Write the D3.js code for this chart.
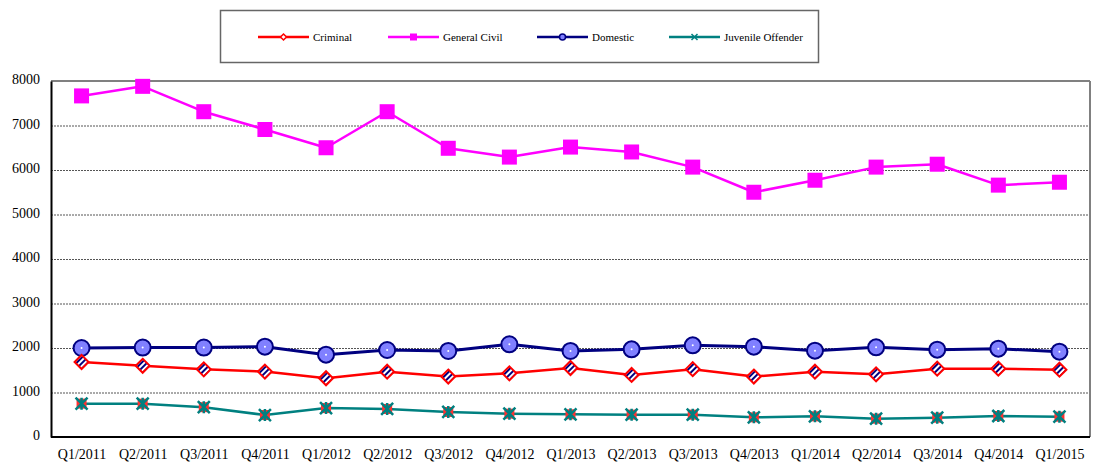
<!DOCTYPE html>
<html>
<head>
<meta charset="UTF-8">
<style>
body {margin:0; background:#fff;}
text {font-family:"Liberation Serif","Times New Roman",serif; fill:#000;}
.tick text {font-size:14px;}
.legend text {font-size:11px;}
</style>
<script src="https://cdnjs.cloudflare.com/ajax/libs/d3/7.8.5/d3.min.js"></script>
</head>
<body>
<svg id="chart" width="1093" height="467"></svg>
<script>
// data
var quarters = ["Q1/2011","Q2/2011","Q3/2011","Q4/2011","Q1/2012","Q2/2012","Q3/2012","Q4/2012",
                "Q1/2013","Q2/2013","Q3/2013","Q4/2013","Q1/2014","Q2/2014","Q3/2014","Q4/2014","Q1/2015"];
var criminal   = [1685,1600,1520,1470,1320,1468,1358,1430,1550,1395,1525,1358,1468,1408,1536,1536,1513];
var civil      = [7665,7880,7310,6910,6500,7310,6488,6290,6515,6405,6065,5500,5770,6065,6130,5660,5725];
var domestic   = [2000,2010,2010,2030,1850,1955,1933,2083,1933,1970,2060,2030,1940,2015,1963,1985,1918];
var juvenile   = [750,748,670,494,650,630,562,524,510,502,502,442,464,412,434,472,457];
var yTicks     = [0,1000,2000,3000,4000,5000,6000,7000,8000];
var seriesNames = ["Criminal","General Civil","Domestic","Juvenile Offender"];

var svg = d3.select("#chart");
var plotL = 51, plotR = 1090, plotT = 81, plotB = 437;

var x = d3.scalePoint().domain(quarters).range([plotL, plotR]).padding(0.5);
var y = d3.scaleLinear().domain([0, 8000]).range([plotB, plotT]);

// hatch pattern for the criminal diamonds
var defs = svg.append("defs");
var pat = defs.append("pattern").attr("id","hatch").attr("patternUnits","userSpaceOnUse")
  .attr("width",4).attr("height",4).attr("patternTransform","rotate(-45)");
pat.append("rect").attr("width",4).attr("height",4).attr("fill","#fff");
pat.append("rect").attr("width",4).attr("height",2).attr("fill","#000080");

// grid
svg.append("g").selectAll("line").data(yTicks.filter(function(d){return d>0 && d<8000;}))
  .join("line")
  .attr("x1", plotL).attr("x2", plotR)
  .attr("y1", function(d){return y(d)+0.5;}).attr("y2", function(d){return y(d)+0.5;})
  .attr("stroke","#555").attr("stroke-width",1).attr("stroke-dasharray","2,1");

// frame
svg.append("line").attr("x1",plotL).attr("x2",plotR).attr("y1",plotT).attr("y2",plotT)
  .attr("stroke","#808080").attr("stroke-width",2);
svg.append("line").attr("x1",plotR).attr("x2",plotR).attr("y1",plotT).attr("y2",plotB)
  .attr("stroke","#808080").attr("stroke-width",2);

// axes
var yAxis = svg.append("g").attr("transform","translate("+plotL+",0)")
  .call(d3.axisLeft(y).tickValues(yTicks).tickFormat(d3.format("d")).tickSize(0).tickPadding(11));
yAxis.select(".domain").attr("stroke","#000").attr("stroke-width",2);
yAxis.selectAll(".tick text").attr("dy","0.2em");

var xAxis = svg.append("g").attr("transform","translate(0,"+plotB+")")
  .call(d3.axisBottom(x).tickSize(0).tickPadding(12));
xAxis.select(".domain").attr("stroke","#000").attr("stroke-width",2)
  .attr("d","M"+plotL+",0H"+plotR);

var line = d3.line().x(function(d,i){return x(quarters[i]);}).y(function(d){return y(d);});

function drawLine(vals, color, w) {
  svg.append("path").datum(vals).attr("d", line)
    .attr("fill","none").attr("stroke",color).attr("stroke-width",w).attr("stroke-linejoin","round");
}

drawLine(domestic, "#000080", 3);
drawLine(criminal, "#ff0000", 2.5);
drawLine(civil, "#ff00ff", 2.5);
drawLine(juvenile, "#008080", 2.5);

// marker drawers
function diamond(g, s) {
  g.append("path").attr("d","M0,"+(-s)+"L"+s+",0L0,"+s+"L"+(-s)+",0Z")
    .attr("fill","url(#hatch)").attr("stroke","#ff0000").attr("stroke-width",2);
}
function square(g, s) {
  g.append("rect").attr("x",-s).attr("y",-s).attr("width",2*s).attr("height",2*s).attr("fill","#ff00ff");
}
function circle(g, r) {
  g.append("circle").attr("r",r).attr("fill","#8080ff").attr("stroke","#000080").attr("stroke-width",2);
  g.append("circle").attr("r",1).attr("fill","#fff");
}
function star(g, s) {
  g.append("rect").attr("x",-s+1).attr("y",-s+1).attr("width",2*s-2).attr("height",2*s-2).attr("fill","#ff3030");
  g.append("path").attr("d","M"+(-s)+","+(-s)+"L"+s+","+s+"M"+s+","+(-s)+"L"+(-s)+","+s+"M0,"+(-s)+"V"+s)
    .attr("stroke","#008080").attr("stroke-width",2.5).attr("fill","none");
}

function drawMarkers(vals, fn, s) {
  svg.append("g").selectAll("g").data(vals).join("g")
    .attr("transform", function(d,i){return "translate("+x(quarters[i])+","+y(d)+")";})
    .each(function(){ fn(d3.select(this), s); });
}
drawMarkers(domestic, circle, 8);
drawMarkers(criminal, diamond, 7);
drawMarkers(civil, square, 7.5);
drawMarkers(juvenile, star, 6);

// legend
var lg = svg.append("g").attr("class","legend");
lg.append("rect").attr("x",220.5).attr("y",10.5).attr("width",598).attr("height",52)
  .attr("fill","#fff").attr("stroke","#666").attr("stroke-width",1.5);
var legX = [258, 388, 537, 669];
var legColors = ["#ff0000","#ff00ff","#000080","#008080"];
var legFns = [function(g){g.append("path").attr("d","M0,-3L3,0L0,3L-3,0Z").attr("fill","#fff").attr("stroke","#ff0000").attr("stroke-width",1.5);},
              function(g){g.append("rect").attr("x",-3.5).attr("y",-3.5).attr("width",7).attr("height",7).attr("fill","#ff00ff");},
              function(g){g.append("circle").attr("r",3).attr("fill","#8080ff").attr("stroke","#000080").attr("stroke-width",1.5);},
              function(g){g.append("path").attr("d","M-3,-3L3,3M3,-3L-3,3").attr("stroke","#008080").attr("stroke-width",1.5);}];
var legY = 37;
seriesNames.forEach(function(name, i){
  lg.append("line").attr("x1",legX[i]).attr("x2",legX[i]+51).attr("y1",legY).attr("y2",legY)
    .attr("stroke",legColors[i]).attr("stroke-width",2.5);
  var m = lg.append("g").attr("transform","translate("+(legX[i]+25.5)+","+legY+")");
  legFns[i](m);
  lg.append("text").attr("x",legX[i]+55).attr("y",legY+4).text(name);
});
</script>
</body>
</html>
